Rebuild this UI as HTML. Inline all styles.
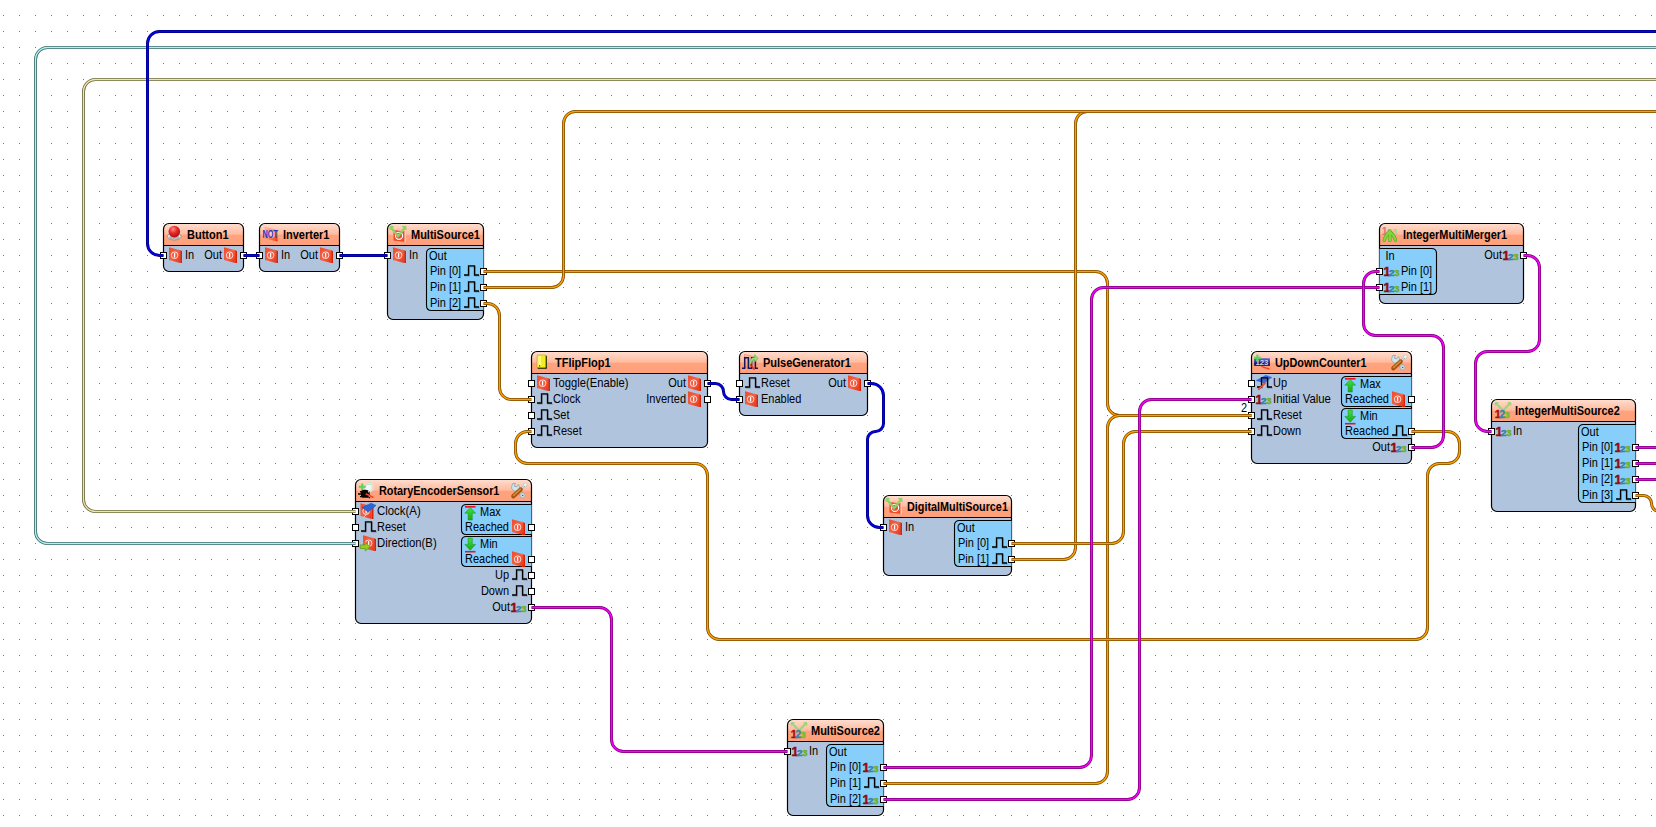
<!DOCTYPE html>
<html lang="en">
<head>
<meta charset="utf-8">
<title>Visuino diagram</title>
<style>
html,body{margin:0;padding:0;background:#fff;overflow:hidden}
svg{display:block}
svg{font-family:"Liberation Sans", Arial, sans-serif;font-size:11px;fill:#000}
.ttl{font-weight:bold;font-size:11px}
</style>
</head>
<body>
<svg width="1656" height="827" viewBox="0 0 1656 827">
<defs>
<pattern id="grid" x="0" y="0" width="16" height="16" patternUnits="userSpaceOnUse"><rect x="3" y="15" width="1" height="1" fill="#7a7a7a"/></pattern>
<linearGradient id="ghead" x1="0" y1="0" x2="0" y2="1"><stop offset="0" stop-color="#ffdfd1"/><stop offset=".5" stop-color="#ffbb9f"/><stop offset=".54" stop-color="#ffa37e"/><stop offset="1" stop-color="#ffa07a"/></linearGradient>
<linearGradient id="gred" x1="0" y1="0" x2="1" y2="1"><stop offset="0" stop-color="#f04a2c"/><stop offset=".5" stop-color="#f26246"/><stop offset="1" stop-color="#ec3214"/></linearGradient>
<linearGradient id="ggreen" x1="0" y1="0" x2="0" y2="1"><stop offset="0" stop-color="#3fe03f"/><stop offset="1" stop-color="#12b012"/></linearGradient>
<linearGradient id="gnot" x1="0" y1="0" x2="1" y2="1"><stop offset="0" stop-color="#f8a690" stop-opacity=".5"/><stop offset=".55" stop-color="#f37a60" stop-opacity=".75"/><stop offset="1" stop-color="#ea2a0c"/></linearGradient>
<linearGradient id="glcd" x1="0" y1="0" x2="0" y2="1"><stop offset="0" stop-color="#6f70d4"/><stop offset=".55" stop-color="#23247e"/><stop offset="1" stop-color="#04042c"/></linearGradient>
<radialGradient id="gball" cx=".4" cy=".3" r=".75"><stop offset="0" stop-color="#ff8f8f"/><stop offset=".45" stop-color="#e62a2a"/><stop offset="1" stop-color="#a80d0d"/></radialGradient>
<clipPath id="c163_223"><rect x="163.5" y="223.5" width="80" height="48" rx="5.5"/></clipPath><clipPath id="c259_223"><rect x="259.5" y="223.5" width="80" height="48" rx="5.5"/></clipPath><clipPath id="c387_223"><rect x="387.5" y="223.5" width="96" height="96" rx="5.5"/></clipPath><clipPath id="c531_351"><rect x="531.5" y="351.5" width="176" height="96" rx="5.5"/></clipPath><clipPath id="c739_351"><rect x="739.5" y="351.5" width="128" height="64" rx="5.5"/></clipPath><clipPath id="c883_495"><rect x="883.5" y="495.5" width="128" height="80" rx="5.5"/></clipPath><clipPath id="c355_479"><rect x="355.5" y="479.5" width="176" height="144" rx="5.5"/></clipPath><clipPath id="c787_719"><rect x="787.5" y="719.5" width="96" height="96" rx="5.5"/></clipPath><clipPath id="c1251_351"><rect x="1251.5" y="351.5" width="160" height="112" rx="5.5"/></clipPath><clipPath id="c1379_223"><rect x="1379.5" y="223.5" width="144" height="80" rx="5.5"/></clipPath><clipPath id="c1491_399"><rect x="1491.5" y="399.5" width="144" height="112" rx="5.5"/></clipPath></defs>
<rect x="0" y="0" width="1656" height="827" fill="#fff"/>
<rect x="0" y="0" width="1656" height="827" fill="url(#grid)"/>
<g><rect x="163.5" y="223.5" width="80" height="48" rx="5.5" fill="#b0c4de"/><rect x="163" y="223" width="81" height="22.5" fill="url(#ghead)" clip-path="url(#c163_223)"/><rect x="163.5" y="223.5" width="80" height="48" rx="5.5" fill="none" stroke="#000" stroke-width="1.2"/><line x1="163.5" y1="245.5" x2="243.5" y2="245.5" stroke="#000" stroke-width="1.2"/><ellipse cx="174.3" cy="236.4" rx="6.8" ry="3.7" fill="#ececec" stroke="#8c8c8c" stroke-width=".8"/><ellipse cx="174.3" cy="237.4" rx="5.2" ry="2.2" fill="#7d7d7d" fill-opacity=".5"/><circle cx="174.3" cy="231.6" r="5.8" fill="url(#gball)"/><text class="ttl" transform="translate(187,239) scale(1,1.1)">Button1</text><polygon points="169.0,247.2 180.2,250.3 180.2,262.9 169.0,260.1" fill="url(#gred)"/><polygon points="180.2,250.3 182.0,251.1 182.0,262.9 180.2,262.9" fill="#d92406"/><circle cx="174.6" cy="255.2" r="3.3" fill="none" stroke="#fff" stroke-opacity=".88" stroke-width=".9"/><line x1="174.6" y1="252.9" x2="174.6" y2="257.6" stroke="#fff" stroke-width="1.2"/><text transform="translate(185,258.8) scale(1,1.1)">In</text><polygon points="224.0,247.2 235.2,250.3 235.2,262.9 224.0,260.1" fill="url(#gred)"/><polygon points="235.2,250.3 237.0,251.1 237.0,262.9 235.2,262.9" fill="#d92406"/><circle cx="229.6" cy="255.2" r="3.3" fill="none" stroke="#fff" stroke-opacity=".88" stroke-width=".9"/><line x1="229.6" y1="252.9" x2="229.6" y2="257.6" stroke="#fff" stroke-width="1.2"/><text transform="translate(222,258.8) scale(1,1.1)" text-anchor="end">Out</text></g>
<g><rect x="259.5" y="223.5" width="80" height="48" rx="5.5" fill="#b0c4de"/><rect x="259" y="223" width="81" height="22.5" fill="url(#ghead)" clip-path="url(#c259_223)"/><rect x="259.5" y="223.5" width="80" height="48" rx="5.5" fill="none" stroke="#000" stroke-width="1.2"/><line x1="259.5" y1="245.5" x2="339.5" y2="245.5" stroke="#000" stroke-width="1.2"/><polygon points="264.5,226.5 276,229.8 277.6,230.6 277.6,241.6 264.5,238.6" fill="url(#gnot)"/><circle cx="271" cy="234.4" r="3.6" fill="#fff" fill-opacity=".55"/><text x="262.6" y="238.2" font-family='"Liberation Sans", Arial, sans-serif' font-weight="bold" font-size="11.4" fill="#2434c4" textLength="15.4" lengthAdjust="spacingAndGlyphs">NOT</text><text class="ttl" transform="translate(283,239) scale(1,1.1)">Inverter1</text><polygon points="265.0,247.2 276.2,250.3 276.2,262.9 265.0,260.1" fill="url(#gred)"/><polygon points="276.2,250.3 278.0,251.1 278.0,262.9 276.2,262.9" fill="#d92406"/><circle cx="270.6" cy="255.2" r="3.3" fill="none" stroke="#fff" stroke-opacity=".88" stroke-width=".9"/><line x1="270.6" y1="252.9" x2="270.6" y2="257.6" stroke="#fff" stroke-width="1.2"/><text transform="translate(281,258.8) scale(1,1.1)">In</text><polygon points="320.0,247.2 331.2,250.3 331.2,262.9 320.0,260.1" fill="url(#gred)"/><polygon points="331.2,250.3 333.0,251.1 333.0,262.9 331.2,262.9" fill="#d92406"/><circle cx="325.6" cy="255.2" r="3.3" fill="none" stroke="#fff" stroke-opacity=".88" stroke-width=".9"/><line x1="325.6" y1="252.9" x2="325.6" y2="257.6" stroke="#fff" stroke-width="1.2"/><text transform="translate(318,258.8) scale(1,1.1)" text-anchor="end">Out</text></g>
<g><rect x="387.5" y="223.5" width="96" height="96" rx="5.5" fill="#b0c4de"/><rect x="387" y="223" width="97" height="22.5" fill="url(#ghead)" clip-path="url(#c387_223)"/><rect x="387.5" y="223.5" width="96" height="96" rx="5.5" fill="none" stroke="#000" stroke-width="1.2"/><line x1="387.5" y1="245.5" x2="483.5" y2="245.5" stroke="#000" stroke-width="1.2"/><polygon points="393.5,230 405,231.5 405,242 393.5,240.5" fill="#ef4a2c"/><line x1="405" y1="231.5" x2="405" y2="242" stroke="#fbe3dc" stroke-width="1"/><circle cx="399" cy="235.8" r="3.6" fill="none" stroke="#fff" stroke-width="1.1"/><path d="M391,227.5 L398,236.3 L405,227.5" fill="none" stroke="#8fd06a" stroke-width="2.3" stroke-linejoin="round"/><path d="M390,229.8 L390.4,226.6 L393.8,226.8 M402.2,226.8 L405.6,226.6 L406,229.8" fill="none" stroke="#8fd06a" stroke-width="1.4"/><text class="ttl" transform="translate(411,239) scale(1,1.1)">MultiSource1</text><polygon points="393.0,247.2 404.2,250.3 404.2,262.9 393.0,260.1" fill="url(#gred)"/><polygon points="404.2,250.3 406.0,251.1 406.0,262.9 404.2,262.9" fill="#d92406"/><circle cx="398.6" cy="255.2" r="3.3" fill="none" stroke="#fff" stroke-opacity=".88" stroke-width=".9"/><line x1="398.6" y1="252.9" x2="398.6" y2="257.6" stroke="#fff" stroke-width="1.2"/><text transform="translate(409,258.8) scale(1,1.1)">In</text><path d="M483.5,248.5H431.5Q426.5,248.5 426.5,253.5V305.5Q426.5,310.5 431.5,310.5H483.5Z" fill="#87cefa"/><path d="M483.5,248.5H431.5Q426.5,248.5 426.5,253.5V305.5Q426.5,310.5 431.5,310.5H483.5" fill="none" stroke="#000" stroke-width="1.1"/><text transform="translate(429,260) scale(1,1.1)">Out</text><path d="M464,275.0H468.5V265.8H474.5V275.0H479" transform="translate(0.8,0.8)" fill="none" stroke="#5b6a80" stroke-opacity=".55" stroke-width="1.2"/><path d="M464,275.0H468.5V265.8H474.5V275.0H479" fill="none" stroke="#000" stroke-width="1.3"/><text transform="translate(430,274.8) scale(1,1.1)">Pin [0]</text><path d="M464,291.0H468.5V281.8H474.5V291.0H479" transform="translate(0.8,0.8)" fill="none" stroke="#5b6a80" stroke-opacity=".55" stroke-width="1.2"/><path d="M464,291.0H468.5V281.8H474.5V291.0H479" fill="none" stroke="#000" stroke-width="1.3"/><text transform="translate(430,290.8) scale(1,1.1)">Pin [1]</text><path d="M464,307.0H468.5V297.8H474.5V307.0H479" transform="translate(0.8,0.8)" fill="none" stroke="#5b6a80" stroke-opacity=".55" stroke-width="1.2"/><path d="M464,307.0H468.5V297.8H474.5V307.0H479" fill="none" stroke="#000" stroke-width="1.3"/><text transform="translate(430,306.8) scale(1,1.1)">Pin [2]</text></g>
<g><rect x="531.5" y="351.5" width="176" height="96" rx="5.5" fill="#b0c4de"/><rect x="531" y="351" width="177" height="22.5" fill="url(#ghead)" clip-path="url(#c531_351)"/><rect x="531.5" y="351.5" width="176" height="96" rx="5.5" fill="none" stroke="#000" stroke-width="1.2"/><line x1="531.5" y1="373.5" x2="707.5" y2="373.5" stroke="#000" stroke-width="1.2"/><rect x="537.5" y="355.5" width="9.5" height="13.5" rx="1" fill="#3c3a10"/><rect x="537" y="355" width="8.6" height="12.6" rx="1" fill="#f5ee1e" stroke="#b5ad10" stroke-width=".6"/><rect x="538.2" y="356" width="3" height="10" fill="#fdfb9a" fill-opacity=".8"/><rect x="539" y="365.2" width="1.2" height="1.2" fill="#3c3a10"/><text class="ttl" transform="translate(555,367) scale(1,1.1)">TFlipFlop1</text><polygon points="537.0,375.2 548.2,378.3 548.2,390.9 537.0,388.1" fill="url(#gred)"/><polygon points="548.2,378.3 550.0,379.1 550.0,390.9 548.2,390.9" fill="#d92406"/><circle cx="542.6" cy="383.2" r="3.3" fill="none" stroke="#fff" stroke-opacity=".88" stroke-width=".9"/><line x1="542.6" y1="380.9" x2="542.6" y2="385.6" stroke="#fff" stroke-width="1.2"/><text transform="translate(553,386.8) scale(1.02,1.1)">Toggle(Enable)</text><path d="M537,403.0H541.5V393.8H547.5V403.0H552" transform="translate(0.8,0.8)" fill="none" stroke="#5b6a80" stroke-opacity=".55" stroke-width="1.2"/><path d="M537,403.0H541.5V393.8H547.5V403.0H552" fill="none" stroke="#000" stroke-width="1.3"/><text transform="translate(553,402.8) scale(1,1.1)">Clock</text><path d="M537,419.0H541.5V409.8H547.5V419.0H552" transform="translate(0.8,0.8)" fill="none" stroke="#5b6a80" stroke-opacity=".55" stroke-width="1.2"/><path d="M537,419.0H541.5V409.8H547.5V419.0H552" fill="none" stroke="#000" stroke-width="1.3"/><text transform="translate(553,418.8) scale(1,1.1)">Set</text><path d="M537,435.0H541.5V425.8H547.5V435.0H552" transform="translate(0.8,0.8)" fill="none" stroke="#5b6a80" stroke-opacity=".55" stroke-width="1.2"/><path d="M537,435.0H541.5V425.8H547.5V435.0H552" fill="none" stroke="#000" stroke-width="1.3"/><text transform="translate(553,434.8) scale(1,1.1)">Reset</text><polygon points="688.0,375.2 699.2,378.3 699.2,390.9 688.0,388.1" fill="url(#gred)"/><polygon points="699.2,378.3 701.0,379.1 701.0,390.9 699.2,390.9" fill="#d92406"/><circle cx="693.6" cy="383.2" r="3.3" fill="none" stroke="#fff" stroke-opacity=".88" stroke-width=".9"/><line x1="693.6" y1="380.9" x2="693.6" y2="385.6" stroke="#fff" stroke-width="1.2"/><text transform="translate(686,386.8) scale(1,1.1)" text-anchor="end">Out</text><polygon points="688.0,391.2 699.2,394.3 699.2,406.9 688.0,404.1" fill="url(#gred)"/><polygon points="699.2,394.3 701.0,395.1 701.0,406.9 699.2,406.9" fill="#d92406"/><circle cx="693.6" cy="399.2" r="3.3" fill="none" stroke="#fff" stroke-opacity=".88" stroke-width=".9"/><line x1="693.6" y1="396.9" x2="693.6" y2="401.6" stroke="#fff" stroke-width="1.2"/><text transform="translate(686,402.8) scale(1,1.1)" text-anchor="end">Inverted</text></g>
<g><rect x="739.5" y="351.5" width="128" height="64" rx="5.5" fill="#b0c4de"/><rect x="739" y="351" width="129" height="22.5" fill="url(#ghead)" clip-path="url(#c739_351)"/><rect x="739.5" y="351.5" width="128" height="64" rx="5.5" fill="none" stroke="#000" stroke-width="1.2"/><line x1="739.5" y1="373.5" x2="867.5" y2="373.5" stroke="#000" stroke-width="1.2"/><polygon points="744.5,354.5 754,356.6 754,369.4 744.5,366.6" fill="#f6a08a" fill-opacity=".45" stroke="#e2452a" stroke-opacity=".6" stroke-width=".6"/><path d="M742,368.2H744.7V357.8H748.4V368.2H751.6V357.8H755.4V368.2H758" fill="none" stroke="#15155e" stroke-width="1.5"/><path d="M749.2,364.4 Q749.4,357.6 754.6,357.2 V354.4 L758.2,358.4 L754.6,362.2 V359.8 Q751.6,360 751.2,364.4 Z" fill="#8fdc78" stroke="#58b046" stroke-width=".5"/><path d="M750,364.5 L754.5,369.5" stroke="#ee2a12" stroke-width="1.2"/><text class="ttl" transform="translate(763,367) scale(1,1.1)">PulseGenerator1</text><path d="M745,387.0H749.5V377.8H755.5V387.0H760" transform="translate(0.8,0.8)" fill="none" stroke="#5b6a80" stroke-opacity=".55" stroke-width="1.2"/><path d="M745,387.0H749.5V377.8H755.5V387.0H760" fill="none" stroke="#000" stroke-width="1.3"/><text transform="translate(761,386.8) scale(1,1.1)">Reset</text><polygon points="745.0,391.2 756.2,394.3 756.2,406.9 745.0,404.1" fill="url(#gred)"/><polygon points="756.2,394.3 758.0,395.1 758.0,406.9 756.2,406.9" fill="#d92406"/><circle cx="750.6" cy="399.2" r="3.3" fill="none" stroke="#fff" stroke-opacity=".88" stroke-width=".9"/><line x1="750.6" y1="396.9" x2="750.6" y2="401.6" stroke="#fff" stroke-width="1.2"/><text transform="translate(761,402.8) scale(1,1.1)">Enabled</text><polygon points="848.0,375.2 859.2,378.3 859.2,390.9 848.0,388.1" fill="url(#gred)"/><polygon points="859.2,378.3 861.0,379.1 861.0,390.9 859.2,390.9" fill="#d92406"/><circle cx="853.6" cy="383.2" r="3.3" fill="none" stroke="#fff" stroke-opacity=".88" stroke-width=".9"/><line x1="853.6" y1="380.9" x2="853.6" y2="385.6" stroke="#fff" stroke-width="1.2"/><text transform="translate(846,386.8) scale(1,1.1)" text-anchor="end">Out</text></g>
<g><rect x="883.5" y="495.5" width="128" height="80" rx="5.5" fill="#b0c4de"/><rect x="883" y="495" width="129" height="22.5" fill="url(#ghead)" clip-path="url(#c883_495)"/><rect x="883.5" y="495.5" width="128" height="80" rx="5.5" fill="none" stroke="#000" stroke-width="1.2"/><line x1="883.5" y1="517.5" x2="1011.5" y2="517.5" stroke="#000" stroke-width="1.2"/><polygon points="889.5,502 901,503.5 901,514 889.5,512.5" fill="#ef4a2c"/><line x1="901" y1="503.5" x2="901" y2="514" stroke="#fbe3dc" stroke-width="1"/><circle cx="895" cy="507.8" r="3.6" fill="none" stroke="#fff" stroke-width="1.1"/><path d="M887,499.5 L894,508.3 L901,499.5" fill="none" stroke="#8fd06a" stroke-width="2.3" stroke-linejoin="round"/><path d="M886,501.8 L886.4,498.6 L889.8,498.8 M898.2,498.8 L901.6,498.6 L902,501.8" fill="none" stroke="#8fd06a" stroke-width="1.4"/><text class="ttl" transform="translate(907,511) scale(1,1.1)" textLength="100.9" lengthAdjust="spacingAndGlyphs">DigitalMultiSource1</text><polygon points="889.0,519.2 900.2,522.3 900.2,534.9 889.0,532.1" fill="url(#gred)"/><polygon points="900.2,522.3 902.0,523.1 902.0,534.9 900.2,534.9" fill="#d92406"/><circle cx="894.6" cy="527.2" r="3.3" fill="none" stroke="#fff" stroke-opacity=".88" stroke-width=".9"/><line x1="894.6" y1="524.9" x2="894.6" y2="529.6" stroke="#fff" stroke-width="1.2"/><text transform="translate(905,530.8) scale(1,1.1)">In</text><path d="M1011.5,520.5H959.5Q954.5,520.5 954.5,525.5V561.5Q954.5,566.5 959.5,566.5H1011.5Z" fill="#87cefa"/><path d="M1011.5,520.5H959.5Q954.5,520.5 954.5,525.5V561.5Q954.5,566.5 959.5,566.5H1011.5" fill="none" stroke="#000" stroke-width="1.1"/><text transform="translate(957,532) scale(1,1.1)">Out</text><path d="M992,547.0H996.5V537.8H1002.5V547.0H1007" transform="translate(0.8,0.8)" fill="none" stroke="#5b6a80" stroke-opacity=".55" stroke-width="1.2"/><path d="M992,547.0H996.5V537.8H1002.5V547.0H1007" fill="none" stroke="#000" stroke-width="1.3"/><text transform="translate(958,546.8) scale(1,1.1)">Pin [0]</text><path d="M992,563.0H996.5V553.8H1002.5V563.0H1007" transform="translate(0.8,0.8)" fill="none" stroke="#5b6a80" stroke-opacity=".55" stroke-width="1.2"/><path d="M992,563.0H996.5V553.8H1002.5V563.0H1007" fill="none" stroke="#000" stroke-width="1.3"/><text transform="translate(958,562.8) scale(1,1.1)">Pin [1]</text></g>
<g><rect x="355.5" y="479.5" width="176" height="144" rx="5.5" fill="#b0c4de"/><rect x="355" y="479" width="177" height="22.5" fill="url(#ghead)" clip-path="url(#c355_479)"/><rect x="355.5" y="479.5" width="176" height="144" rx="5.5" fill="none" stroke="#000" stroke-width="1.2"/><line x1="355.5" y1="501.5" x2="531.5" y2="501.5" stroke="#000" stroke-width="1.2"/><circle cx="369.2" cy="487.4" r="4.7" fill="#f3f6f3" stroke="#cfd8cf" stroke-width=".8"/><path d="M366.2,485.2 Q369,483.4 371.6,484.6" fill="none" stroke="#a9dca0" stroke-width=".8"/><path d="M372.2,485.4 Q373.2,488.4 371,490.6" fill="none" stroke="#f0b6b0" stroke-width=".8"/><path d="M362.2,483.4V490.4M358.8,486.8H365.8" stroke="#5ed25e" stroke-width="2.1"/><path d="M361,491 Q365,488.4 369.4,491.2 L369.8,494.6 L368.2,497.8 H362.2 L361,495.4 Z" fill="#050505"/><path d="M358,494H362M360,491.8H362M360,496.6H362.4M368.6,497.6h1.6" stroke="#050505" stroke-width="1.4"/><circle cx="368.6" cy="491.8" r=".7" fill="#e8e8e8"/><path d="M366.2,494L373,497.2" stroke="#f0452c" stroke-width="1.6" stroke-linecap="round"/><text class="ttl" transform="translate(379,495) scale(1,1.1)" textLength="120.4" lengthAdjust="spacingAndGlyphs">RotaryEncoderSensor1</text><g transform="translate(511,482)"><line x1="5.2" y1="6.2" x2="11.4" y2="13.2" stroke="#8fa5ad" stroke-width="3.6" stroke-linecap="round"/><line x1="5.2" y1="6.2" x2="11.4" y2="13.2" stroke="#d3e4e8" stroke-width="2.4" stroke-linecap="round"/><circle cx="11.6" cy="13.4" r="2.5" fill="#d3e4e8" stroke="#8fa5ad" stroke-width=".7"/><circle cx="11.7" cy="13.5" r=".8" fill="#4d5b61"/><path d="M1.6,1.6 L4.4,1.2 L3.2,4 L5.6,5 L7.4,2.4 A4,4 0 1 1 0.6,4.6 Z" fill="#d3e4e8" stroke="#8fa5ad" stroke-width=".8" stroke-linejoin="round"/><line x1="10" y1="7.4" x2="14" y2="3" stroke="#9fb5bb" stroke-width="2"/><line x1="10" y1="7.4" x2="14" y2="3" stroke="#e4f3f5" stroke-width="1"/><circle cx="14.2" cy="2.8" r="1.8" fill="#eafafa" stroke="#a9bfc4" stroke-width=".6"/><line x1="2.4" y1="14.2" x2="9.6" y2="7.6" stroke="#a9530f" stroke-width="4.4" stroke-linecap="round"/><line x1="2.6" y1="13.4" x2="9.4" y2="7.2" stroke="#d98a3a" stroke-width="1.6" stroke-linecap="round" stroke-dasharray="1 .7"/></g><polygon points="360.5,503.2 371.7,506.3 371.7,518.9 360.5,516.1" fill="url(#gred)"/><polygon points="371.7,506.3 373.5,507.1 373.5,518.9 371.7,518.9" fill="#d92406"/><circle cx="366.1" cy="511.2" r="3.3" fill="none" stroke="#fff" stroke-opacity=".88" stroke-width=".9"/><line x1="366.1" y1="508.9" x2="366.1" y2="513.6" stroke="#fff" stroke-width="1.2"/><line x1="363.5" y1="517.5" x2="371" y2="509.5" stroke="#f9c4b8" stroke-width="1"/><polygon points="361.9,507.5 371.1,503.2 376,505.4 368.4,511.9" fill="#2f63d6" stroke="#1a47ad" stroke-width=".5"/><text transform="translate(377,514.8) scale(1.036,1.1)">Clock(A)</text><path d="M361,531.0H365.5V521.8H371.5V531.0H376" transform="translate(0.8,0.8)" fill="none" stroke="#5b6a80" stroke-opacity=".55" stroke-width="1.2"/><path d="M361,531.0H365.5V521.8H371.5V531.0H376" fill="none" stroke="#000" stroke-width="1.3"/><text transform="translate(377,530.8) scale(1,1.1)">Reset</text><polygon points="363.0,535.2 374.2,538.3 374.2,550.9 363.0,548.1" fill="url(#gred)"/><polygon points="374.2,538.3 376.0,539.1 376.0,550.9 374.2,550.9" fill="#d92406"/><circle cx="368.6" cy="543.2" r="3.3" fill="none" stroke="#fff" stroke-opacity=".88" stroke-width=".9"/><line x1="368.6" y1="540.9" x2="368.6" y2="545.6" stroke="#fff" stroke-width="1.2"/><path d="M360.2,544.9 H365.2 V542.4 L370.2,546.7 L365.2,551 V548.5 H360.2 Z" fill="#8fd11c" stroke="#5a9a0c" stroke-width=".7" stroke-linejoin="round"/><text transform="translate(377,546.8) scale(1.028,1.1)">Direction(B)</text><path d="M531.5,504.5H466.5Q461.5,504.5 461.5,509.5V529.5Q461.5,534.5 466.5,534.5H531.5Z" fill="#87cefa"/><path d="M531.5,504.5H466.5Q461.5,504.5 461.5,509.5V529.5Q461.5,534.5 466.5,534.5H531.5" fill="none" stroke="#000" stroke-width="1.1"/><rect x="465" y="506" width="10.5" height="1.6" fill="#e8102a"/><path d="M470.2,507.4 L475.6,513.2 H472.3 V520 H468.1 V513.2 H464.8 Z" fill="url(#ggreen)" stroke="#1f8a1f" stroke-width=".5"/><text transform="translate(480,516) scale(1,1.1)">Max</text><polygon points="512.0,519.2 523.2,522.3 523.2,534.9 512.0,532.1" fill="url(#gred)"/><polygon points="523.2,522.3 525.0,523.1 525.0,534.9 523.2,534.9" fill="#d92406"/><circle cx="517.6" cy="527.2" r="3.3" fill="none" stroke="#fff" stroke-opacity=".88" stroke-width=".9"/><line x1="517.6" y1="524.9" x2="517.6" y2="529.6" stroke="#fff" stroke-width="1.2"/><text transform="translate(465,530.8) scale(1,1.1)">Reached</text><path d="M531.5,536.5H466.5Q461.5,536.5 461.5,541.5V561.5Q461.5,566.5 466.5,566.5H531.5Z" fill="#87cefa"/><path d="M531.5,536.5H466.5Q461.5,536.5 461.5,541.5V561.5Q461.5,566.5 466.5,566.5H531.5" fill="none" stroke="#000" stroke-width="1.1"/><rect x="465" y="550.9" width="10.5" height="1.6" fill="#e8102a"/><path d="M470.2,550.2 L475.6,544.4 H472.3 V538 H468.1 V544.4 H464.8 Z" fill="url(#ggreen)" stroke="#1f8a1f" stroke-width=".5"/><text transform="translate(480,548) scale(1,1.1)">Min</text><polygon points="512.0,551.2 523.2,554.3 523.2,566.9 512.0,564.1" fill="url(#gred)"/><polygon points="523.2,554.3 525.0,555.1 525.0,566.9 523.2,566.9" fill="#d92406"/><circle cx="517.6" cy="559.2" r="3.3" fill="none" stroke="#fff" stroke-opacity=".88" stroke-width=".9"/><line x1="517.6" y1="556.9" x2="517.6" y2="561.6" stroke="#fff" stroke-width="1.2"/><text transform="translate(465,562.8) scale(1,1.1)">Reached</text><path d="M512,579.0H516.5V569.8H522.5V579.0H527" transform="translate(0.8,0.8)" fill="none" stroke="#5b6a80" stroke-opacity=".55" stroke-width="1.2"/><path d="M512,579.0H516.5V569.8H522.5V579.0H527" fill="none" stroke="#000" stroke-width="1.3"/><text transform="translate(509,578.8) scale(1,1.1)" text-anchor="end">Up</text><path d="M512,595.0H516.5V585.8H522.5V595.0H527" transform="translate(0.8,0.8)" fill="none" stroke="#5b6a80" stroke-opacity=".55" stroke-width="1.2"/><path d="M512,595.0H516.5V585.8H522.5V595.0H527" fill="none" stroke="#000" stroke-width="1.3"/><text transform="translate(509,594.8) scale(1,1.1)" text-anchor="end">Down</text><text x="510.5" y="612.3" font-family='"Liberation Sans", Arial, sans-serif' font-weight="bold" font-size="12.5" fill="#920c0c" stroke="#920c0c" stroke-width=".5">1</text><text x="515.9" y="612.3" font-family='"Liberation Sans", Arial, sans-serif' font-weight="bold" font-size="9.9" fill="#3585aa" stroke="#3585aa" stroke-width=".5">2</text><text x="521.3" y="612.3" font-family='"Liberation Sans", Arial, sans-serif' font-weight="bold" font-size="9.5" fill="#72ad2a" stroke="#72ad2a" stroke-width=".5">3</text><text transform="translate(510,610.8) scale(1,1.1)" text-anchor="end">Out</text></g>
<g><rect x="787.5" y="719.5" width="96" height="96" rx="5.5" fill="#b0c4de"/><rect x="787" y="719" width="97" height="22.5" fill="url(#ghead)" clip-path="url(#c787_719)"/><rect x="787.5" y="719.5" width="96" height="96" rx="5.5" fill="none" stroke="#000" stroke-width="1.2"/><line x1="787.5" y1="741.5" x2="883.5" y2="741.5" stroke="#000" stroke-width="1.2"/><path d="M792,723.5 L799,730.5 L806,723.5" fill="none" stroke="#9bd47a" stroke-width="2.1" stroke-linejoin="round"/><path d="M791,725.5 L791.6,722.6 L794.6,722.8 M803.4,722.8 L806.4,722.6 L807,725.5" fill="none" stroke="#9bd47a" stroke-width="1.3"/><text x="790.7" y="737.6" font-family='"Liberation Sans", Arial, sans-serif' font-weight="bold" font-size="11" fill="#a01414" stroke="#a01414" stroke-width=".4">1</text><text x="795.4" y="737.6" font-family='"Liberation Sans", Arial, sans-serif' font-weight="bold" font-size="10" fill="#2f86b0" stroke="#2f86b0" stroke-width=".4">2</text><text x="800.6" y="737.6" font-family='"Liberation Sans", Arial, sans-serif' font-weight="bold" font-size="9.4" fill="#76b82a" stroke="#76b82a" stroke-width=".4">3</text><text class="ttl" transform="translate(811,735) scale(1,1.1)">MultiSource2</text><text x="791.5" y="756.3" font-family='"Liberation Sans", Arial, sans-serif' font-weight="bold" font-size="12.5" fill="#920c0c" stroke="#920c0c" stroke-width=".5">1</text><text x="796.9" y="756.3" font-family='"Liberation Sans", Arial, sans-serif' font-weight="bold" font-size="9.9" fill="#3585aa" stroke="#3585aa" stroke-width=".5">2</text><text x="802.3" y="756.3" font-family='"Liberation Sans", Arial, sans-serif' font-weight="bold" font-size="9.5" fill="#72ad2a" stroke="#72ad2a" stroke-width=".5">3</text><text transform="translate(809,754.8) scale(1,1.1)">In</text><path d="M883.5,744.5H831.5Q826.5,744.5 826.5,749.5V801.5Q826.5,806.5 831.5,806.5H883.5Z" fill="#87cefa"/><path d="M883.5,744.5H831.5Q826.5,744.5 826.5,749.5V801.5Q826.5,806.5 831.5,806.5H883.5" fill="none" stroke="#000" stroke-width="1.1"/><text transform="translate(829,756) scale(1,1.1)">Out</text><text x="862.5" y="772.3" font-family='"Liberation Sans", Arial, sans-serif' font-weight="bold" font-size="12.5" fill="#920c0c" stroke="#920c0c" stroke-width=".5">1</text><text x="867.9" y="772.3" font-family='"Liberation Sans", Arial, sans-serif' font-weight="bold" font-size="9.9" fill="#3585aa" stroke="#3585aa" stroke-width=".5">2</text><text x="873.3" y="772.3" font-family='"Liberation Sans", Arial, sans-serif' font-weight="bold" font-size="9.5" fill="#72ad2a" stroke="#72ad2a" stroke-width=".5">3</text><text transform="translate(830,770.8) scale(1,1.1)">Pin [0]</text><path d="M864,787.0H868.5V777.8H874.5V787.0H879" transform="translate(0.8,0.8)" fill="none" stroke="#5b6a80" stroke-opacity=".55" stroke-width="1.2"/><path d="M864,787.0H868.5V777.8H874.5V787.0H879" fill="none" stroke="#000" stroke-width="1.3"/><text transform="translate(830,786.8) scale(1,1.1)">Pin [1]</text><text x="862.5" y="804.3" font-family='"Liberation Sans", Arial, sans-serif' font-weight="bold" font-size="12.5" fill="#920c0c" stroke="#920c0c" stroke-width=".5">1</text><text x="867.9" y="804.3" font-family='"Liberation Sans", Arial, sans-serif' font-weight="bold" font-size="9.9" fill="#3585aa" stroke="#3585aa" stroke-width=".5">2</text><text x="873.3" y="804.3" font-family='"Liberation Sans", Arial, sans-serif' font-weight="bold" font-size="9.5" fill="#72ad2a" stroke="#72ad2a" stroke-width=".5">3</text><text transform="translate(830,802.8) scale(1,1.1)">Pin [2]</text></g>
<g><rect x="1251.5" y="351.5" width="160" height="112" rx="5.5" fill="#b0c4de"/><rect x="1251" y="351" width="161" height="22.5" fill="url(#ghead)" clip-path="url(#c1251_351)"/><rect x="1251.5" y="351.5" width="160" height="112" rx="5.5" fill="none" stroke="#000" stroke-width="1.2"/><line x1="1251.5" y1="373.5" x2="1411.5" y2="373.5" stroke="#000" stroke-width="1.2"/><rect x="1254.1" y="358.2" width="15.8" height="7.6" fill="url(#glcd)"/><text x="1255.4" y="364.8" font-family='"Liberation Sans", Arial, sans-serif' font-weight="bold" font-size="6.4" fill="#e6e9ff" fill-opacity=".9" textLength="13" lengthAdjust="spacingAndGlyphs">123</text><path d="M1257.4,354.4V361.4M1254,357.9H1260.8" stroke="#5ed25e" stroke-width="2.1"/><path d="M1262,366.6L1269,369" stroke="#f0452c" stroke-width="1.5" stroke-linecap="round"/><text class="ttl" transform="translate(1275,367) scale(1,1.1)" textLength="91.5" lengthAdjust="spacingAndGlyphs">UpDownCounter1</text><g transform="translate(1391,354)"><line x1="5.2" y1="6.2" x2="11.4" y2="13.2" stroke="#8fa5ad" stroke-width="3.6" stroke-linecap="round"/><line x1="5.2" y1="6.2" x2="11.4" y2="13.2" stroke="#d3e4e8" stroke-width="2.4" stroke-linecap="round"/><circle cx="11.6" cy="13.4" r="2.5" fill="#d3e4e8" stroke="#8fa5ad" stroke-width=".7"/><circle cx="11.7" cy="13.5" r=".8" fill="#4d5b61"/><path d="M1.6,1.6 L4.4,1.2 L3.2,4 L5.6,5 L7.4,2.4 A4,4 0 1 1 0.6,4.6 Z" fill="#d3e4e8" stroke="#8fa5ad" stroke-width=".8" stroke-linejoin="round"/><line x1="10" y1="7.4" x2="14" y2="3" stroke="#9fb5bb" stroke-width="2"/><line x1="10" y1="7.4" x2="14" y2="3" stroke="#e4f3f5" stroke-width="1"/><circle cx="14.2" cy="2.8" r="1.8" fill="#eafafa" stroke="#a9bfc4" stroke-width=".6"/><line x1="2.4" y1="14.2" x2="9.6" y2="7.6" stroke="#a9530f" stroke-width="4.4" stroke-linecap="round"/><line x1="2.6" y1="13.4" x2="9.4" y2="7.2" stroke="#d98a3a" stroke-width="1.6" stroke-linecap="round" stroke-dasharray="1 .7"/></g><polygon points="1256.1,380.5 1265.9,375.3 1271.8,377.4 1264.1,382.9" fill="#2f6ae6" stroke="#2458c8" stroke-width=".4"/><path d="M1257,387.0H1261.5V377.8H1267.5V387.0H1272" transform="translate(0.8,0.8)" fill="none" stroke="#5b6a80" stroke-opacity=".55" stroke-width="1.2"/><path d="M1257,387.0H1261.5V377.8H1267.5V387.0H1272" fill="none" stroke="#000" stroke-width="1.3"/><line x1="1258.8" y1="389.2" x2="1265" y2="383.2" stroke="#d83a1a" stroke-width="1.7" stroke-linecap="round"/><line x1="1259.4" y1="388.6" x2="1264.6" y2="383.6" stroke="#fff" stroke-opacity=".8" stroke-width=".6" stroke-dasharray=".7 .8"/><text transform="translate(1273,386.8) scale(1,1.1)">Up</text><text x="1255.5" y="404.3" font-family='"Liberation Sans", Arial, sans-serif' font-weight="bold" font-size="12.5" fill="#920c0c" stroke="#920c0c" stroke-width=".5">1</text><text x="1260.9" y="404.3" font-family='"Liberation Sans", Arial, sans-serif' font-weight="bold" font-size="9.9" fill="#3585aa" stroke="#3585aa" stroke-width=".5">2</text><text x="1266.3" y="404.3" font-family='"Liberation Sans", Arial, sans-serif' font-weight="bold" font-size="9.5" fill="#72ad2a" stroke="#72ad2a" stroke-width=".5">3</text><text transform="translate(1273,402.8) scale(1.035,1.1)">Initial Value</text><path d="M1257,419.0H1261.5V409.8H1267.5V419.0H1272" transform="translate(0.8,0.8)" fill="none" stroke="#5b6a80" stroke-opacity=".55" stroke-width="1.2"/><path d="M1257,419.0H1261.5V409.8H1267.5V419.0H1272" fill="none" stroke="#000" stroke-width="1.3"/><text transform="translate(1273,418.8) scale(1,1.1)">Reset</text><path d="M1257,435.0H1261.5V425.8H1267.5V435.0H1272" transform="translate(0.8,0.8)" fill="none" stroke="#5b6a80" stroke-opacity=".55" stroke-width="1.2"/><path d="M1257,435.0H1261.5V425.8H1267.5V435.0H1272" fill="none" stroke="#000" stroke-width="1.3"/><text transform="translate(1273,434.8) scale(1,1.1)">Down</text><path d="M1411.5,376.5H1346.5Q1341.5,376.5 1341.5,381.5V401.5Q1341.5,406.5 1346.5,406.5H1411.5Z" fill="#87cefa"/><path d="M1411.5,376.5H1346.5Q1341.5,376.5 1341.5,381.5V401.5Q1341.5,406.5 1346.5,406.5H1411.5" fill="none" stroke="#000" stroke-width="1.1"/><rect x="1345" y="378" width="10.5" height="1.6" fill="#e8102a"/><path d="M1350.2,379.4 L1355.6,385.2 H1352.3 V392 H1348.1 V385.2 H1344.8 Z" fill="url(#ggreen)" stroke="#1f8a1f" stroke-width=".5"/><text transform="translate(1360,388) scale(1,1.1)">Max</text><polygon points="1392.0,391.2 1403.2,394.3 1403.2,406.9 1392.0,404.1" fill="url(#gred)"/><polygon points="1403.2,394.3 1405.0,395.1 1405.0,406.9 1403.2,406.9" fill="#d92406"/><circle cx="1397.6" cy="399.2" r="3.3" fill="none" stroke="#fff" stroke-opacity=".88" stroke-width=".9"/><line x1="1397.6" y1="396.9" x2="1397.6" y2="401.6" stroke="#fff" stroke-width="1.2"/><text transform="translate(1345,402.8) scale(1,1.1)">Reached</text><path d="M1411.5,408.5H1346.5Q1341.5,408.5 1341.5,413.5V433.5Q1341.5,438.5 1346.5,438.5H1411.5Z" fill="#87cefa"/><path d="M1411.5,408.5H1346.5Q1341.5,408.5 1341.5,413.5V433.5Q1341.5,438.5 1346.5,438.5H1411.5" fill="none" stroke="#000" stroke-width="1.1"/><rect x="1345" y="422.9" width="10.5" height="1.6" fill="#e8102a"/><path d="M1350.2,422.2 L1355.6,416.4 H1352.3 V410 H1348.1 V416.4 H1344.8 Z" fill="url(#ggreen)" stroke="#1f8a1f" stroke-width=".5"/><text transform="translate(1360,420) scale(1,1.1)">Min</text><path d="M1392,435.0H1396.5V425.8H1402.5V435.0H1407" transform="translate(0.8,0.8)" fill="none" stroke="#5b6a80" stroke-opacity=".55" stroke-width="1.2"/><path d="M1392,435.0H1396.5V425.8H1402.5V435.0H1407" fill="none" stroke="#000" stroke-width="1.3"/><text transform="translate(1345,434.8) scale(1,1.1)">Reached</text><text x="1390.5" y="452.3" font-family='"Liberation Sans", Arial, sans-serif' font-weight="bold" font-size="12.5" fill="#920c0c" stroke="#920c0c" stroke-width=".5">1</text><text x="1395.9" y="452.3" font-family='"Liberation Sans", Arial, sans-serif' font-weight="bold" font-size="9.9" fill="#3585aa" stroke="#3585aa" stroke-width=".5">2</text><text x="1401.3" y="452.3" font-family='"Liberation Sans", Arial, sans-serif' font-weight="bold" font-size="9.5" fill="#72ad2a" stroke="#72ad2a" stroke-width=".5">3</text><text transform="translate(1390,450.8) scale(1,1.1)" text-anchor="end">Out</text></g>
<g><rect x="1379.5" y="223.5" width="144" height="80" rx="5.5" fill="#b0c4de"/><rect x="1379" y="223" width="145" height="22.5" fill="url(#ghead)" clip-path="url(#c1379_223)"/><rect x="1379.5" y="223.5" width="144" height="80" rx="5.5" fill="none" stroke="#000" stroke-width="1.2"/><line x1="1379.5" y1="245.5" x2="1523.5" y2="245.5" stroke="#000" stroke-width="1.2"/><text x="1381.4" y="234.7" font-family='"Liberation Sans", Arial, sans-serif' font-weight="bold" font-size="11" fill="#c0706f" fill-opacity=".85">1</text><text x="1386.6" y="234.7" font-family='"Liberation Sans", Arial, sans-serif' font-weight="bold" font-size="9.4" fill="#86b4d8" fill-opacity=".9">2</text><text x="1392" y="234.7" font-family='"Liberation Sans", Arial, sans-serif' font-weight="bold" font-size="9" fill="#9fd47a" fill-opacity=".9">3</text><path d="M1384.2,240.2 Q1386,234.6 1389.8,231.6 Q1393.6,234.6 1395.6,240.2 M1389.9,231.2 V240.4" fill="none" stroke="#4f9f1c" stroke-width="3.2" stroke-linecap="round" stroke-linejoin="round"/><path d="M1384.2,240.2 Q1386,234.6 1389.8,231.6 Q1393.6,234.6 1395.6,240.2 M1389.9,231.2 V240.4" fill="none" stroke="#83d63a" stroke-width="2.2" stroke-linecap="round" stroke-linejoin="round"/><text class="ttl" transform="translate(1403,239) scale(1,1.1)" textLength="104.1" lengthAdjust="spacingAndGlyphs">IntegerMultiMerger1</text><path d="M1379.5,248.5H1431.5Q1436.5,248.5 1436.5,253.5V289.5Q1436.5,294.5 1431.5,294.5H1379.5Z" fill="#87cefa"/><path d="M1379.5,248.5H1431.5Q1436.5,248.5 1436.5,253.5V289.5Q1436.5,294.5 1431.5,294.5H1379.5" fill="none" stroke="#000" stroke-width="1.1"/><text transform="translate(1385.5,260) scale(1,1.1)">In</text><text x="1383.5" y="276.3" font-family='"Liberation Sans", Arial, sans-serif' font-weight="bold" font-size="12.5" fill="#920c0c" stroke="#920c0c" stroke-width=".5">1</text><text x="1388.9" y="276.3" font-family='"Liberation Sans", Arial, sans-serif' font-weight="bold" font-size="9.9" fill="#3585aa" stroke="#3585aa" stroke-width=".5">2</text><text x="1394.3" y="276.3" font-family='"Liberation Sans", Arial, sans-serif' font-weight="bold" font-size="9.5" fill="#72ad2a" stroke="#72ad2a" stroke-width=".5">3</text><text transform="translate(1401,274.8) scale(1,1.1)">Pin [0]</text><text x="1383.5" y="292.3" font-family='"Liberation Sans", Arial, sans-serif' font-weight="bold" font-size="12.5" fill="#920c0c" stroke="#920c0c" stroke-width=".5">1</text><text x="1388.9" y="292.3" font-family='"Liberation Sans", Arial, sans-serif' font-weight="bold" font-size="9.9" fill="#3585aa" stroke="#3585aa" stroke-width=".5">2</text><text x="1394.3" y="292.3" font-family='"Liberation Sans", Arial, sans-serif' font-weight="bold" font-size="9.5" fill="#72ad2a" stroke="#72ad2a" stroke-width=".5">3</text><text transform="translate(1401,290.8) scale(1,1.1)">Pin [1]</text><text x="1502.5" y="260.3" font-family='"Liberation Sans", Arial, sans-serif' font-weight="bold" font-size="12.5" fill="#920c0c" stroke="#920c0c" stroke-width=".5">1</text><text x="1507.9" y="260.3" font-family='"Liberation Sans", Arial, sans-serif' font-weight="bold" font-size="9.9" fill="#3585aa" stroke="#3585aa" stroke-width=".5">2</text><text x="1513.3" y="260.3" font-family='"Liberation Sans", Arial, sans-serif' font-weight="bold" font-size="9.5" fill="#72ad2a" stroke="#72ad2a" stroke-width=".5">3</text><text transform="translate(1502,258.8) scale(1,1.1)" text-anchor="end">Out</text></g>
<g><rect x="1491.5" y="399.5" width="144" height="112" rx="5.5" fill="#b0c4de"/><rect x="1491" y="399" width="145" height="22.5" fill="url(#ghead)" clip-path="url(#c1491_399)"/><rect x="1491.5" y="399.5" width="144" height="112" rx="5.5" fill="none" stroke="#000" stroke-width="1.2"/><line x1="1491.5" y1="421.5" x2="1635.5" y2="421.5" stroke="#000" stroke-width="1.2"/><path d="M1496,403.5 L1503,410.5 L1510,403.5" fill="none" stroke="#9bd47a" stroke-width="2.1" stroke-linejoin="round"/><path d="M1495,405.5 L1495.6,402.6 L1498.6,402.8 M1507.4,402.8 L1510.4,402.6 L1511,405.5" fill="none" stroke="#9bd47a" stroke-width="1.3"/><text x="1494.7" y="417.6" font-family='"Liberation Sans", Arial, sans-serif' font-weight="bold" font-size="11" fill="#a01414" stroke="#a01414" stroke-width=".4">1</text><text x="1499.4" y="417.6" font-family='"Liberation Sans", Arial, sans-serif' font-weight="bold" font-size="10" fill="#2f86b0" stroke="#2f86b0" stroke-width=".4">2</text><text x="1504.6" y="417.6" font-family='"Liberation Sans", Arial, sans-serif' font-weight="bold" font-size="9.4" fill="#76b82a" stroke="#76b82a" stroke-width=".4">3</text><text class="ttl" transform="translate(1515,415) scale(1,1.1)" textLength="104.7" lengthAdjust="spacingAndGlyphs">IntegerMultiSource2</text><text x="1495.5" y="436.3" font-family='"Liberation Sans", Arial, sans-serif' font-weight="bold" font-size="12.5" fill="#920c0c" stroke="#920c0c" stroke-width=".5">1</text><text x="1500.9" y="436.3" font-family='"Liberation Sans", Arial, sans-serif' font-weight="bold" font-size="9.9" fill="#3585aa" stroke="#3585aa" stroke-width=".5">2</text><text x="1506.3" y="436.3" font-family='"Liberation Sans", Arial, sans-serif' font-weight="bold" font-size="9.5" fill="#72ad2a" stroke="#72ad2a" stroke-width=".5">3</text><text transform="translate(1513,434.8) scale(1,1.1)">In</text><path d="M1635.5,424.5H1583.5Q1578.5,424.5 1578.5,429.5V497.5Q1578.5,502.5 1583.5,502.5H1635.5Z" fill="#87cefa"/><path d="M1635.5,424.5H1583.5Q1578.5,424.5 1578.5,429.5V497.5Q1578.5,502.5 1583.5,502.5H1635.5" fill="none" stroke="#000" stroke-width="1.1"/><text transform="translate(1581,436) scale(1,1.1)">Out</text><text x="1614.5" y="452.3" font-family='"Liberation Sans", Arial, sans-serif' font-weight="bold" font-size="12.5" fill="#920c0c" stroke="#920c0c" stroke-width=".5">1</text><text x="1619.9" y="452.3" font-family='"Liberation Sans", Arial, sans-serif' font-weight="bold" font-size="9.9" fill="#3585aa" stroke="#3585aa" stroke-width=".5">2</text><text x="1625.3" y="452.3" font-family='"Liberation Sans", Arial, sans-serif' font-weight="bold" font-size="9.5" fill="#72ad2a" stroke="#72ad2a" stroke-width=".5">3</text><text transform="translate(1582,450.8) scale(1,1.1)">Pin [0]</text><text x="1614.5" y="468.3" font-family='"Liberation Sans", Arial, sans-serif' font-weight="bold" font-size="12.5" fill="#920c0c" stroke="#920c0c" stroke-width=".5">1</text><text x="1619.9" y="468.3" font-family='"Liberation Sans", Arial, sans-serif' font-weight="bold" font-size="9.9" fill="#3585aa" stroke="#3585aa" stroke-width=".5">2</text><text x="1625.3" y="468.3" font-family='"Liberation Sans", Arial, sans-serif' font-weight="bold" font-size="9.5" fill="#72ad2a" stroke="#72ad2a" stroke-width=".5">3</text><text transform="translate(1582,466.8) scale(1,1.1)">Pin [1]</text><text x="1614.5" y="484.3" font-family='"Liberation Sans", Arial, sans-serif' font-weight="bold" font-size="12.5" fill="#920c0c" stroke="#920c0c" stroke-width=".5">1</text><text x="1619.9" y="484.3" font-family='"Liberation Sans", Arial, sans-serif' font-weight="bold" font-size="9.9" fill="#3585aa" stroke="#3585aa" stroke-width=".5">2</text><text x="1625.3" y="484.3" font-family='"Liberation Sans", Arial, sans-serif' font-weight="bold" font-size="9.5" fill="#72ad2a" stroke="#72ad2a" stroke-width=".5">3</text><text transform="translate(1582,482.8) scale(1,1.1)">Pin [2]</text><path d="M1616,499.0H1620.5V489.8H1626.5V499.0H1631" transform="translate(0.8,0.8)" fill="none" stroke="#5b6a80" stroke-opacity=".55" stroke-width="1.2"/><path d="M1616,499.0H1620.5V489.8H1626.5V499.0H1631" fill="none" stroke="#000" stroke-width="1.3"/><text transform="translate(1582,498.8) scale(1,1.1)">Pin [3]</text></g>
<text transform="translate(1241,412) scale(1,1.1)">2</text>
<g shape-rendering="crispEdges"><rect x="160.5" y="252.5" width="6" height="6" fill="#fff" stroke="#000" stroke-width="1"/><rect x="240.5" y="252.5" width="6" height="6" fill="#fff" stroke="#000" stroke-width="1"/><rect x="256.5" y="252.5" width="6" height="6" fill="#fff" stroke="#000" stroke-width="1"/><rect x="336.5" y="252.5" width="6" height="6" fill="#fff" stroke="#000" stroke-width="1"/><rect x="384.5" y="252.5" width="6" height="6" fill="#fff" stroke="#000" stroke-width="1"/><rect x="480.5" y="268.5" width="6" height="6" fill="#fff" stroke="#000" stroke-width="1"/><rect x="480.5" y="284.5" width="6" height="6" fill="#fff" stroke="#000" stroke-width="1"/><rect x="480.5" y="300.5" width="6" height="6" fill="#fff" stroke="#000" stroke-width="1"/><rect x="528.5" y="380.5" width="6" height="6" fill="#fff" stroke="#000" stroke-width="1"/><rect x="528.5" y="396.5" width="6" height="6" fill="#fff" stroke="#000" stroke-width="1"/><rect x="528.5" y="412.5" width="6" height="6" fill="#fff" stroke="#000" stroke-width="1"/><rect x="528.5" y="428.5" width="6" height="6" fill="#fff" stroke="#000" stroke-width="1"/><rect x="704.5" y="380.5" width="6" height="6" fill="#fff" stroke="#000" stroke-width="1"/><rect x="704.5" y="396.5" width="6" height="6" fill="#fff" stroke="#000" stroke-width="1"/><rect x="736.5" y="380.5" width="6" height="6" fill="#fff" stroke="#000" stroke-width="1"/><rect x="736.5" y="396.5" width="6" height="6" fill="#fff" stroke="#000" stroke-width="1"/><rect x="864.5" y="380.5" width="6" height="6" fill="#fff" stroke="#000" stroke-width="1"/><rect x="880.5" y="524.5" width="6" height="6" fill="#fff" stroke="#000" stroke-width="1"/><rect x="1008.5" y="540.5" width="6" height="6" fill="#fff" stroke="#000" stroke-width="1"/><rect x="1008.5" y="556.5" width="6" height="6" fill="#fff" stroke="#000" stroke-width="1"/><rect x="352.5" y="508.5" width="6" height="6" fill="#fff" stroke="#000" stroke-width="1"/><rect x="352.5" y="524.5" width="6" height="6" fill="#fff" stroke="#000" stroke-width="1"/><rect x="352.5" y="540.5" width="6" height="6" fill="#fff" stroke="#000" stroke-width="1"/><rect x="528.5" y="524.5" width="6" height="6" fill="#fff" stroke="#000" stroke-width="1"/><rect x="528.5" y="556.5" width="6" height="6" fill="#fff" stroke="#000" stroke-width="1"/><rect x="528.5" y="572.5" width="6" height="6" fill="#fff" stroke="#000" stroke-width="1"/><rect x="528.5" y="588.5" width="6" height="6" fill="#fff" stroke="#000" stroke-width="1"/><rect x="528.5" y="604.5" width="6" height="6" fill="#fff" stroke="#000" stroke-width="1"/><rect x="784.5" y="748.5" width="6" height="6" fill="#fff" stroke="#000" stroke-width="1"/><rect x="880.5" y="764.5" width="6" height="6" fill="#fff" stroke="#000" stroke-width="1"/><rect x="880.5" y="780.5" width="6" height="6" fill="#fff" stroke="#000" stroke-width="1"/><rect x="880.5" y="796.5" width="6" height="6" fill="#fff" stroke="#000" stroke-width="1"/><rect x="1248.5" y="380.5" width="6" height="6" fill="#fff" stroke="#000" stroke-width="1"/><rect x="1248.5" y="396.5" width="6" height="6" fill="#fff" stroke="#000" stroke-width="1"/><rect x="1248.5" y="412.5" width="6" height="6" fill="#fff" stroke="#000" stroke-width="1"/><rect x="1248.5" y="428.5" width="6" height="6" fill="#fff" stroke="#000" stroke-width="1"/><rect x="1408.5" y="396.5" width="6" height="6" fill="#fff" stroke="#000" stroke-width="1"/><rect x="1408.5" y="428.5" width="6" height="6" fill="#fff" stroke="#000" stroke-width="1"/><rect x="1408.5" y="444.5" width="6" height="6" fill="#fff" stroke="#000" stroke-width="1"/><rect x="1376.5" y="268.5" width="6" height="6" fill="#fff" stroke="#000" stroke-width="1"/><rect x="1376.5" y="284.5" width="6" height="6" fill="#fff" stroke="#000" stroke-width="1"/><rect x="1520.5" y="252.5" width="6" height="6" fill="#fff" stroke="#000" stroke-width="1"/><rect x="1488.5" y="428.5" width="6" height="6" fill="#fff" stroke="#000" stroke-width="1"/><rect x="1632.5" y="444.5" width="6" height="6" fill="#fff" stroke="#000" stroke-width="1"/><rect x="1632.5" y="460.5" width="6" height="6" fill="#fff" stroke="#000" stroke-width="1"/><rect x="1632.5" y="476.5" width="6" height="6" fill="#fff" stroke="#000" stroke-width="1"/><rect x="1632.5" y="492.5" width="6" height="6" fill="#fff" stroke="#000" stroke-width="1"/></g>
<g fill="none"><path d="M355.5,543.5L47.50,543.50A12.00,12.00 0 0 1 35.50,531.50L35.50,59.50A12.00,12.00 0 0 1 47.50,47.50L1662.5,47.5" stroke="#3f6b6b" stroke-width="3"/><path d="M355.5,543.5L47.50,543.50A12.00,12.00 0 0 1 35.50,531.50L35.50,59.50A12.00,12.00 0 0 1 47.50,47.50L1662.5,47.5" stroke="#aef4f4" stroke-width="1.3"/></g>
<g fill="none"><path d="M355.5,511.5L95.50,511.50A12.00,12.00 0 0 1 83.50,499.50L83.50,91.50A12.00,12.00 0 0 1 95.50,79.50L1662.5,79.5" stroke="#6e6a45" stroke-width="3"/><path d="M355.5,511.5L95.50,511.50A12.00,12.00 0 0 1 83.50,499.50L83.50,91.50A12.00,12.00 0 0 1 95.50,79.50L1662.5,79.5" stroke="#efe8aa" stroke-width="1.3"/></g>
<g fill="none"><path d="M483.5,271.5L1095.50,271.50A12.00,12.00 0 0 1 1107.50,283.50L1107.50,403.50A12.00,12.00 0 0 0 1119.50,415.50L1251.5,415.5" stroke="#7a4a00" stroke-width="3"/><path d="M483.5,271.5L1095.50,271.50A12.00,12.00 0 0 1 1107.50,283.50L1107.50,403.50A12.00,12.00 0 0 0 1119.50,415.50L1251.5,415.5" stroke="#ffa000" stroke-width="1.5"/><path d="M883.5,783.5L1095.50,783.50A12.00,12.00 0 0 0 1107.50,771.50L1107.50,427.50A12.00,12.00 0 0 1 1119.50,415.50L1251.5,415.5" stroke="#7a4a00" stroke-width="3"/><path d="M883.5,783.5L1095.50,783.50A12.00,12.00 0 0 0 1107.50,771.50L1107.50,427.50A12.00,12.00 0 0 1 1119.50,415.50L1251.5,415.5" stroke="#ffa000" stroke-width="1.5"/><path d="M1011.5,559.5L1063.50,559.50A12.00,12.00 0 0 0 1075.50,547.50L1075.50,123.50A12.00,12.00 0 0 1 1087.50,111.50L1662.5,111.5" stroke="#7a4a00" stroke-width="3"/><path d="M1011.5,559.5L1063.50,559.50A12.00,12.00 0 0 0 1075.50,547.50L1075.50,123.50A12.00,12.00 0 0 1 1087.50,111.50L1662.5,111.5" stroke="#ffa000" stroke-width="1.5"/><path d="M483.5,287.5L551.50,287.50A12.00,12.00 0 0 0 563.50,275.50L563.50,123.50A12.00,12.00 0 0 1 575.50,111.50L1662.5,111.5" stroke="#7a4a00" stroke-width="3"/><path d="M483.5,287.5L551.50,287.50A12.00,12.00 0 0 0 563.50,275.50L563.50,123.50A12.00,12.00 0 0 1 575.50,111.50L1662.5,111.5" stroke="#ffa000" stroke-width="1.5"/><path d="M483.5,303.5L487.50,303.50A12.00,12.00 0 0 1 499.50,315.50L499.50,387.50A12.00,12.00 0 0 0 511.50,399.50L531.5,399.5" stroke="#7a4a00" stroke-width="3"/><path d="M483.5,303.5L487.50,303.50A12.00,12.00 0 0 1 499.50,315.50L499.50,387.50A12.00,12.00 0 0 0 511.50,399.50L531.5,399.5" stroke="#ffa000" stroke-width="1.5"/><path d="M1411.5,431.5L1447.50,431.50A12.00,12.00 0 0 1 1459.50,443.50L1459.50,451.50A12.00,12.00 0 0 1 1447.50,463.50L1439.50,463.50A12.00,12.00 0 0 0 1427.50,475.50L1427.50,627.50A12.00,12.00 0 0 1 1415.50,639.50L719.50,639.50A12.00,12.00 0 0 1 707.50,627.50L707.50,475.50A12.00,12.00 0 0 0 695.50,463.50L527.50,463.50A12.00,12.00 0 0 1 515.50,451.50L515.50,443.50A12.00,12.00 0 0 1 527.50,431.50L531.5,431.5" stroke="#7a4a00" stroke-width="3"/><path d="M1411.5,431.5L1447.50,431.50A12.00,12.00 0 0 1 1459.50,443.50L1459.50,451.50A12.00,12.00 0 0 1 1447.50,463.50L1439.50,463.50A12.00,12.00 0 0 0 1427.50,475.50L1427.50,627.50A12.00,12.00 0 0 1 1415.50,639.50L719.50,639.50A12.00,12.00 0 0 1 707.50,627.50L707.50,475.50A12.00,12.00 0 0 0 695.50,463.50L527.50,463.50A12.00,12.00 0 0 1 515.50,451.50L515.50,443.50A12.00,12.00 0 0 1 527.50,431.50L531.5,431.5" stroke="#ffa000" stroke-width="1.5"/><path d="M1011.5,543.5L1111.50,543.50A12.00,12.00 0 0 0 1123.50,531.50L1123.50,443.50A12.00,12.00 0 0 1 1135.50,431.50L1251.5,431.5" stroke="#7a4a00" stroke-width="3"/><path d="M1011.5,543.5L1111.50,543.50A12.00,12.00 0 0 0 1123.50,531.50L1123.50,443.50A12.00,12.00 0 0 1 1135.50,431.50L1251.5,431.5" stroke="#ffa000" stroke-width="1.5"/><path d="M1635.5,495.5L1643.50,495.50A8.00,8.00 0 0 1 1651.50,503.50L1651.50,503.50A8.00,8.00 0 0 0 1659.50,511.50L1667.5,511.5" stroke="#7a4a00" stroke-width="3"/><path d="M1635.5,495.5L1643.50,495.50A8.00,8.00 0 0 1 1651.50,503.50L1651.50,503.50A8.00,8.00 0 0 0 1659.50,511.50L1667.5,511.5" stroke="#ffa000" stroke-width="1.5"/></g>
<g fill="none"><path d="M163.5,255.5L159.50,255.50A12.00,12.00 0 0 1 147.50,243.50L147.50,43.50A12.00,12.00 0 0 1 159.50,31.50L1662.5,31.5" stroke="#00007e" stroke-width="3"/><path d="M163.5,255.5L159.50,255.50A12.00,12.00 0 0 1 147.50,243.50L147.50,43.50A12.00,12.00 0 0 1 159.50,31.50L1662.5,31.5" stroke="#0000ff" stroke-width="1.5"/><path d="M243.5,255.5L259.5,255.5" stroke="#00007e" stroke-width="3"/><path d="M243.5,255.5L259.5,255.5" stroke="#0000ff" stroke-width="1.5"/><path d="M339.5,255.5L387.5,255.5" stroke="#00007e" stroke-width="3"/><path d="M339.5,255.5L387.5,255.5" stroke="#0000ff" stroke-width="1.5"/><path d="M707.5,383.5L715.50,383.50A8.00,8.00 0 0 1 723.50,391.50L723.50,391.50A8.00,8.00 0 0 0 731.50,399.50L739.5,399.5" stroke="#00007e" stroke-width="3"/><path d="M707.5,383.5L715.50,383.50A8.00,8.00 0 0 1 723.50,391.50L723.50,391.50A8.00,8.00 0 0 0 731.50,399.50L739.5,399.5" stroke="#0000ff" stroke-width="1.5"/><path d="M867.5,383.5L871.50,383.50A12.00,12.00 0 0 1 883.50,395.50L883.50,423.50A8.00,8.00 0 0 1 875.50,431.50L875.50,431.50A8.00,8.00 0 0 0 867.50,439.50L867.50,515.50A12.00,12.00 0 0 0 879.50,527.50L883.5,527.5" stroke="#00007e" stroke-width="3"/><path d="M867.5,383.5L871.50,383.50A12.00,12.00 0 0 1 883.50,395.50L883.50,423.50A8.00,8.00 0 0 1 875.50,431.50L875.50,431.50A8.00,8.00 0 0 0 867.50,439.50L867.50,515.50A12.00,12.00 0 0 0 879.50,527.50L883.5,527.5" stroke="#0000ff" stroke-width="1.5"/></g>
<g fill="none"><path d="M531.5,607.5L599.50,607.50A12.00,12.00 0 0 1 611.50,619.50L611.50,739.50A12.00,12.00 0 0 0 623.50,751.50L787.5,751.5" stroke="#7a007a" stroke-width="3"/><path d="M531.5,607.5L599.50,607.50A12.00,12.00 0 0 1 611.50,619.50L611.50,739.50A12.00,12.00 0 0 0 623.50,751.50L787.5,751.5" stroke="#ff00ff" stroke-width="1.5"/><path d="M883.5,767.5L1079.50,767.50A12.00,12.00 0 0 0 1091.50,755.50L1091.50,299.50A12.00,12.00 0 0 1 1103.50,287.50L1379.5,287.5" stroke="#7a007a" stroke-width="3"/><path d="M883.5,767.5L1079.50,767.50A12.00,12.00 0 0 0 1091.50,755.50L1091.50,299.50A12.00,12.00 0 0 1 1103.50,287.50L1379.5,287.5" stroke="#ff00ff" stroke-width="1.5"/><path d="M883.5,799.5L1127.50,799.50A12.00,12.00 0 0 0 1139.50,787.50L1139.50,411.50A12.00,12.00 0 0 1 1151.50,399.50L1251.5,399.5" stroke="#7a007a" stroke-width="3"/><path d="M883.5,799.5L1127.50,799.50A12.00,12.00 0 0 0 1139.50,787.50L1139.50,411.50A12.00,12.00 0 0 1 1151.50,399.50L1251.5,399.5" stroke="#ff00ff" stroke-width="1.5"/><path d="M1411.5,447.5L1431.50,447.50A12.00,12.00 0 0 0 1443.50,435.50L1443.50,347.50A12.00,12.00 0 0 0 1431.50,335.50L1375.50,335.50A12.00,12.00 0 0 1 1363.50,323.50L1363.50,283.50A12.00,12.00 0 0 1 1375.50,271.50L1379.5,271.5" stroke="#7a007a" stroke-width="3"/><path d="M1411.5,447.5L1431.50,447.50A12.00,12.00 0 0 0 1443.50,435.50L1443.50,347.50A12.00,12.00 0 0 0 1431.50,335.50L1375.50,335.50A12.00,12.00 0 0 1 1363.50,323.50L1363.50,283.50A12.00,12.00 0 0 1 1375.50,271.50L1379.5,271.5" stroke="#ff00ff" stroke-width="1.5"/><path d="M1523.5,255.5L1527.50,255.50A12.00,12.00 0 0 1 1539.50,267.50L1539.50,339.50A12.00,12.00 0 0 1 1527.50,351.50L1487.50,351.50A12.00,12.00 0 0 0 1475.50,363.50L1475.50,419.50A12.00,12.00 0 0 0 1487.50,431.50L1491.5,431.5" stroke="#7a007a" stroke-width="3"/><path d="M1523.5,255.5L1527.50,255.50A12.00,12.00 0 0 1 1539.50,267.50L1539.50,339.50A12.00,12.00 0 0 1 1527.50,351.50L1487.50,351.50A12.00,12.00 0 0 0 1475.50,363.50L1475.50,419.50A12.00,12.00 0 0 0 1487.50,431.50L1491.5,431.5" stroke="#ff00ff" stroke-width="1.5"/><path d="M1635.5,447.5L1662.5,447.5" stroke="#7a007a" stroke-width="3"/><path d="M1635.5,447.5L1662.5,447.5" stroke="#ff00ff" stroke-width="1.5"/><path d="M1635.5,463.5L1662.5,463.5" stroke="#7a007a" stroke-width="3"/><path d="M1635.5,463.5L1662.5,463.5" stroke="#ff00ff" stroke-width="1.5"/><path d="M1635.5,479.5L1662.5,479.5" stroke="#7a007a" stroke-width="3"/><path d="M1635.5,479.5L1662.5,479.5" stroke="#ff00ff" stroke-width="1.5"/></g>
</svg>
</body>
</html>
